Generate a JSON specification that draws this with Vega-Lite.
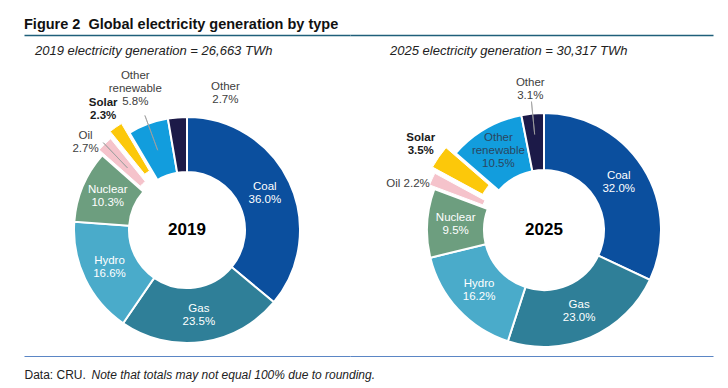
{
  "$schema": "https://vega.github.io/schema/vega-lite/v6.json",
  "padding": {"left": 24, "top": 16, "right": 0, "bottom": 0},
  "bounds": "flush",
  "spacing": 0,
  "title": {"text": "Figure 2\u00a0 Global electricity generation by type", "anchor": "start", "fontSize": 14.5, "fontWeight": "bold", "color": "#111111", "offset": 3},
  "datasets": {
    "gen": [
      {"year": "2019", "type": "Coal", "pct": 36.0, "rank": 1},
      {"year": "2019", "type": "Gas", "pct": 23.5, "rank": 2},
      {"year": "2019", "type": "Hydro", "pct": 16.6, "rank": 3},
      {"year": "2019", "type": "Nuclear", "pct": 10.3, "rank": 4},
      {"year": "2019", "type": "Oil", "pct": 2.7, "rank": 5},
      {"year": "2019", "type": "Solar", "pct": 2.3, "rank": 6},
      {"year": "2019", "type": "Other renewable", "pct": 5.8, "rank": 7},
      {"year": "2019", "type": "Other", "pct": 2.7, "rank": 8},
      {"year": "2025", "type": "Coal", "pct": 32.0, "rank": 1},
      {"year": "2025", "type": "Gas", "pct": 23.0, "rank": 2},
      {"year": "2025", "type": "Hydro", "pct": 16.2, "rank": 3},
      {"year": "2025", "type": "Nuclear", "pct": 9.5, "rank": 4},
      {"year": "2025", "type": "Oil", "pct": 2.2, "rank": 5},
      {"year": "2025", "type": "Solar", "pct": 3.5, "rank": 6},
      {"year": "2025", "type": "Other renewable", "pct": 10.5, "rank": 7},
      {"year": "2025", "type": "Other", "pct": 3.1, "rank": 8}
    ],
    "frame": [{"t": 0}]
  },
  "hconcat": [
    {
      "width": 326,
      "height": 236,
      "title": {"text": "2019 electricity generation = 26,663 TWh", "anchor": "start", "frame": "group", "dx": 11, "fontStyle": "italic", "fontWeight": "normal", "fontSize": 13, "offset": -23, "color": "#222222"},
      "resolve": {"scale": {"x": "independent"}, "axis": {"x": "independent"}},
      "layer": [
        {
          "data": {"name": "frame"},
          "mark": {"type": "point", "opacity": 0, "size": 0},
          "encoding": {
            "x": {"field": "t", "type": "quantitative", "scale": {"domain": [0, 1]}, "axis": {"orient": "top", "offset": 77, "domainColor": "#1f5f7a", "domainWidth": 1.5, "ticks": false, "labels": false, "grid": false, "title": null}}
          }
        },
        {
          "data": {"name": "frame"},
          "mark": {"type": "point", "opacity": 0, "size": 0},
          "encoding": {
            "x": {"field": "t", "type": "quantitative", "scale": {"domain": [0, 1]}, "axis": {"orient": "bottom", "offset": 8, "domainColor": "#5b86c5", "domainWidth": 1.2, "ticks": false, "tickSize": 0, "grid": false, "values": [0], "labelExpr": "'Data: CRU.'", "labelAlign": "left", "labelBaseline": "alphabetic", "labelPadding": 22, "labelFontSize": 12, "labelColor": "#222222", "labelFlush": false, "labelOverlap": false, "labelBound": false, "title": "Note that totals may not equal 100% due to rounding.", "titleFontStyle": "italic", "titleFontWeight": "normal", "titleFontSize": 12, "titleColor": "#222222", "titleX": 67, "titleY": 22, "titleAlign": "left", "titleBaseline": "alphabetic", "titleAnchor": "start"}}
          }
        },
        {
          "data": {"name": "gen"},
          "transform": [
            {"filter": "datum.year === '2019'"},
            {"calculate": "datum.type === 'Other renewable' ? 'Other\\nrenewable\\n' + format(datum.pct, '.1f') + '%' : datum.type + '\\n' + format(datum.pct, '.1f') + '%'", "as": "label"}
          ],
          "encoding": {
            "theta": {"field": "pct", "type": "quantitative", "stack": true},
            "order": {"field": "rank", "type": "quantitative"}
          },
          "layer": [
            {
              "mark": {"type": "arc", "radius": 113, "radius2": 58, "stroke": "#ffffff", "strokeWidth": 2},
              "encoding": {
                "color": {"field": "type", "type": "nominal", "legend": null, "scale": {"domain": ["Coal", "Gas", "Hydro", "Nuclear", "Oil", "Solar", "Other renewable", "Other"], "range": ["#0b4f9e", "#2f7f98", "#4aabca", "#6d9e7f", "#f5c3cb", "#fcc80a", "#129ddd", "#1c1a48"]}},
                "opacity": {"condition": {"test": "datum.type === 'Oil' || datum.type === 'Solar'", "value": 0}, "value": 1}
              }
            },
            {
              "mark": {"type": "arc", "radius": 119, "radius2": 64, "padAngle": 0.03, "stroke": "#ffffff", "strokeWidth": 1},
              "encoding": {
                "color": {"field": "type", "type": "nominal", "legend": null},
                "opacity": {"condition": {"test": "datum.type === 'Oil'", "value": 1}, "value": 0}
              }
            },
            {
              "mark": {"type": "arc", "radius": 125, "radius2": 70, "padAngle": 0.03, "stroke": "#ffffff", "strokeWidth": 1},
              "encoding": {
                "color": {"field": "type", "type": "nominal", "legend": null},
                "opacity": {"condition": {"test": "datum.type === 'Solar'", "value": 1}, "value": 0}
              }
            },
            {
              "mark": {"type": "arc", "filled": false, "radius": 121, "radius2": 86, "padAngle": 1.5, "stroke": "#a0a0a0", "strokeWidth": 0.8},
              "encoding": {"opacity": {"condition": {"test": "datum.type === 'Oil'", "value": 1}, "value": 0}}
            },
            {
              "mark": {"type": "arc", "filled": false, "radius": 122, "radius2": 85, "padAngle": 1.5, "stroke": "#a0a0a0", "strokeWidth": 0.8},
              "encoding": {"opacity": {"condition": {"test": "datum.type === 'Other renewable'", "value": 1}, "value": 0}}
            },
            {
              "mark": {"type": "text", "radius": 86, "dy": -6.5, "fill": "#ffffff", "fontSize": 11.5, "lineHeight": 13, "lineBreak": "\n", "baseline": "middle"},
              "encoding": {"text": {"condition": {"test": "indexof(['Coal','Gas','Hydro','Nuclear'], datum.type) >= 0", "field": "label"}, "value": ""}}
            },
            {
              "mark": {"type": "text", "radius": 150, "dy": -13, "fill": "#404040", "fontSize": 11.5, "lineHeight": 13, "lineBreak": "\n", "baseline": "middle"},
              "encoding": {"text": {"condition": {"test": "datum.type === 'Other renewable'", "field": "label"}, "value": ""}}
            },
            {
              "mark": {"type": "text", "radius": 135, "dx": -8, "dy": 3.5, "fill": "#404040", "fontSize": 11.5, "lineHeight": 13, "lineBreak": "\n", "baseline": "middle"},
              "encoding": {"text": {"condition": {"test": "datum.type === 'Oil'", "field": "label"}, "value": ""}}
            },
            {
              "mark": {"type": "text", "radius": 137, "dx": 50, "dy": -6.5, "fill": "#404040", "fontSize": 11.5, "lineHeight": 13, "lineBreak": "\n", "baseline": "middle"},
              "encoding": {"text": {"condition": {"test": "datum.type === 'Other'", "field": "label"}, "value": ""}}
            },
            {
              "mark": {"type": "text", "radius": 147, "dy": -6.5, "fill": "#1a1a1a", "fontWeight": "bold", "fontSize": 11.5, "lineHeight": 13, "lineBreak": "\n", "baseline": "middle"},
              "encoding": {"text": {"condition": {"test": "datum.type === 'Solar'", "field": "label"}, "value": ""}}
            },
            {
              "transform": [{"filter": "datum.rank === 1"}],
              "mark": {"type": "text", "radius": 0, "fill": "#000000", "fontWeight": "bold", "fontSize": 17, "baseline": "middle"},
              "encoding": {"text": {"field": "year"}}
            }
          ]
        }
      ]
    },
    {
      "width": 388,
      "height": 236,
      "title": {"text": "2025 electricity generation = 30,317 TWh", "anchor": "start", "frame": "group", "dx": 40, "fontStyle": "italic", "fontWeight": "normal", "fontSize": 13, "offset": -23, "color": "#222222"},
      "resolve": {"scale": {"x": "independent"}, "axis": {"x": "independent"}},
      "layer": [
        {
          "data": {"name": "frame"},
          "mark": {"type": "point", "opacity": 0, "size": 0},
          "encoding": {
            "x": {"field": "t", "type": "quantitative", "scale": {"domain": [0, 1], "range": [0, 363]}, "axis": {"orient": "top", "offset": 77, "domainColor": "#1f5f7a", "domainWidth": 1.5, "ticks": false, "labels": false, "grid": false, "title": null}}
          }
        },
        {
          "data": {"name": "frame"},
          "mark": {"type": "point", "opacity": 0, "size": 0},
          "encoding": {
            "x": {"field": "t", "type": "quantitative", "scale": {"domain": [0, 1], "range": [0, 363]}, "axis": {"orient": "bottom", "offset": 8, "domainColor": "#5b86c5", "domainWidth": 1.2, "ticks": false, "labels": false, "grid": false, "title": null}}
          }
        },
        {
          "data": {"name": "gen"},
          "transform": [
            {"filter": "datum.year === '2025'"},
            {"calculate": "datum.type === 'Other renewable' ? 'Other\\nrenewable\\n' + format(datum.pct, '.1f') + '%' : datum.type === 'Oil' ? 'Oil ' + format(datum.pct, '.1f') + '%' : datum.type + '\\n' + format(datum.pct, '.1f') + '%'", "as": "label"}
          ],
          "encoding": {
            "theta": {"field": "pct", "type": "quantitative", "stack": true},
            "order": {"field": "rank", "type": "quantitative"}
          },
          "layer": [
            {
              "mark": {"type": "arc", "radius": 117, "radius2": 60, "stroke": "#ffffff", "strokeWidth": 2},
              "encoding": {
                "color": {"field": "type", "type": "nominal", "legend": null, "scale": {"domain": ["Coal", "Gas", "Hydro", "Nuclear", "Oil", "Solar", "Other renewable", "Other"], "range": ["#0b4f9e", "#2f7f98", "#4aabca", "#6d9e7f", "#f5c3cb", "#fcc80a", "#129ddd", "#1c1a48"]}},
                "opacity": {"condition": {"test": "datum.type === 'Oil' || datum.type === 'Solar'", "value": 0}, "value": 1}
              }
            },
            {
              "mark": {"type": "arc", "radius": 123, "radius2": 66, "padAngle": 0.03, "stroke": "#ffffff", "strokeWidth": 1},
              "encoding": {
                "color": {"field": "type", "type": "nominal", "legend": null},
                "opacity": {"condition": {"test": "datum.type === 'Oil'", "value": 1}, "value": 0}
              }
            },
            {
              "mark": {"type": "arc", "radius": 128, "radius2": 71, "padAngle": 0.03, "stroke": "#ffffff", "strokeWidth": 1},
              "encoding": {
                "color": {"field": "type", "type": "nominal", "legend": null},
                "opacity": {"condition": {"test": "datum.type === 'Solar'", "value": 1}, "value": 0}
              }
            },
            {
              "mark": {"type": "arc", "filled": false, "radius": 129, "radius2": 96, "padAngle": 1.5, "stroke": "#a0a0a0", "strokeWidth": 0.8},
              "encoding": {"opacity": {"condition": {"test": "datum.type === 'Other'", "value": 1}, "value": 0}}
            },
            {
              "mark": {"type": "text", "radius": 88.5, "dy": -6.5, "fill": "#ffffff", "fontSize": 11.5, "lineHeight": 13, "lineBreak": "\n", "baseline": "middle"},
              "encoding": {"text": {"condition": {"test": "indexof(['Coal','Gas','Hydro','Nuclear'], datum.type) >= 0", "field": "label"}, "value": ""}}
            },
            {
              "mark": {"type": "text", "radius": 91, "dy": -13, "fill": "#2a4660", "fontSize": 11.5, "lineHeight": 13, "lineBreak": "\n", "baseline": "middle"},
              "encoding": {"text": {"condition": {"test": "datum.type === 'Other renewable'", "field": "label"}, "value": ""}}
            },
            {
              "mark": {"type": "text", "radius": 141, "dy": -6.5, "fill": "#404040", "fontSize": 11.5, "lineHeight": 13, "lineBreak": "\n", "baseline": "middle"},
              "encoding": {"text": {"condition": {"test": "datum.type === 'Other'", "field": "label"}, "value": ""}}
            },
            {
              "mark": {"type": "text", "radius": 145, "dx": -4, "dy": 14, "fill": "#404040", "fontSize": 11.5, "lineHeight": 13, "lineBreak": "\n", "baseline": "middle"},
              "encoding": {"text": {"condition": {"test": "datum.type === 'Oil'", "field": "label"}, "value": ""}}
            },
            {
              "mark": {"type": "text", "radius": 150, "dy": -6.5, "fill": "#1a1a1a", "fontWeight": "bold", "fontSize": 11.5, "lineHeight": 13, "lineBreak": "\n", "baseline": "middle"},
              "encoding": {"text": {"condition": {"test": "datum.type === 'Solar'", "field": "label"}, "value": ""}}
            },
            {
              "transform": [{"filter": "datum.rank === 1"}],
              "mark": {"type": "text", "radius": 0, "fill": "#000000", "fontWeight": "bold", "fontSize": 17, "baseline": "middle"},
              "encoding": {"text": {"field": "year"}}
            }
          ]
        }
      ]
    }
  ],
  "config": {
    "font": "Liberation Sans",
    "view": {"stroke": null},
    "title": {"font": "Liberation Sans"},
    "text": {"font": "Liberation Sans"},
    "axis": {"labelFont": "Liberation Sans", "titleFont": "Liberation Sans"}
  }
}
